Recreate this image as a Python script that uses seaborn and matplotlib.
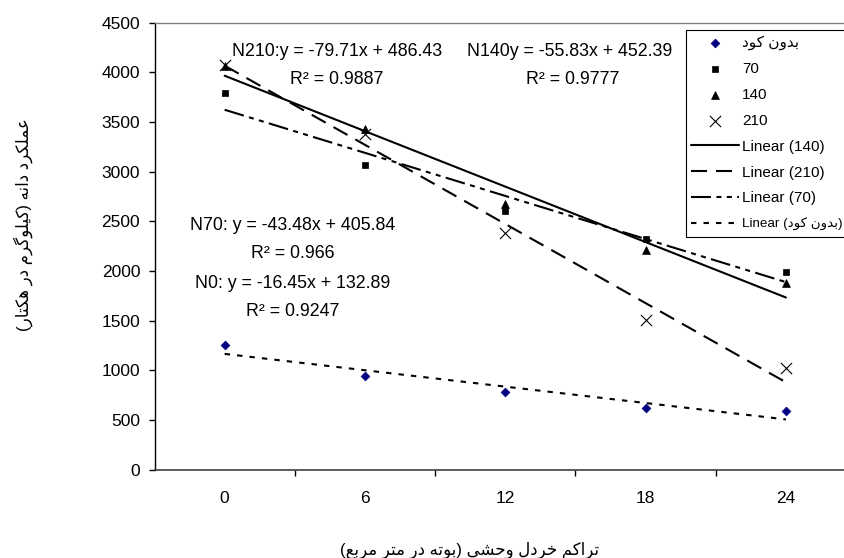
import matplotlib
matplotlib.use("Agg")
import matplotlib.pyplot as plt
from matplotlib import font_manager, ft2font
import numpy as np
import pandas as pd
import seaborn as sns

# ---------------- data ----------------
density = [0, 6, 12, 18, 24]
density_labels = ["0", "6", "12", "18", "24"]
yield_n0 = [1250, 940, 778, 620, 585]
yield_n70 = [3790, 3070, 2600, 2323, 1994]
yield_n140 = [4060, 3430, 2670, 2206, 1880]
yield_n210 = [4073, 3380, 2383, 1503, 1026]
series_names = ["بدون کود", "70", "140", "210"]
y_ticks = [0, 500, 1000, 1500, 2000, 2500, 3000, 3500, 4000, 4500]
eq_texts = ["N210:y = -79.71x + 486.43", "R² = 0.9887",
            "N140y = -55.83x + 452.39", "R² = 0.9777",
            "N70: y = -43.48x + 405.84", "R² = 0.966",
            "N0: y = -16.45x + 132.89", "R² = 0.9247"]
x_title = "تراکم خردل وحشي (بوته در متر مربع)"
y_title = "عملکرد دانه (کیلوگرم در هکتار)"

# ---------------- minimal Arabic/Persian shaping ----------------
FORMS = {
    'ا': ('\uFE8D', '\uFE8E', None, None),
    'ب': ('\uFE8F', '\uFE90', '\uFE91', '\uFE92'),
    'ت': ('\uFE95', '\uFE96', '\uFE97', '\uFE98'),
    'ح': ('\uFEA1', '\uFEA2', '\uFEA3', '\uFEA4'),
    'خ': ('\uFEA5', '\uFEA6', '\uFEA7', '\uFEA8'),
    'د': ('\uFEA9', '\uFEAA', None, None),
    'ر': ('\uFEAD', '\uFEAE', None, None),
    'ش': ('\uFEB5', '\uFEB6', '\uFEB7', '\uFEB8'),
    'ع': ('\uFEC9', '\uFECA', '\uFECB', '\uFECC'),
    'ل': ('\uFEDD', '\uFEDE', '\uFEDF', '\uFEE0'),
    'م': ('\uFEE1', '\uFEE2', '\uFEE3', '\uFEE4'),
    'ن': ('\uFEE5', '\uFEE6', '\uFEE7', '\uFEE8'),
    'ه': ('\uFEE9', '\uFEEA', '\uFEEB', '\uFEEC'),
    'و': ('\uFEED', '\uFEEE', None, None),
    'ي': ('\uFEF1', '\uFEF2', '\uFEF3', '\uFEF4'),
    'ک': ('\uFB8E', '\uFB8F', '\uFB90', '\uFB91'),
    'گ': ('\uFB92', '\uFB93', '\uFB94', '\uFB95'),
    'ی': ('\uFBFC', '\uFBFD', '\uFBFE', '\uFBFF'),
}
try:
    _ft = ft2font.FT2Font(font_manager.findfont("DejaVu Sans"))
    def _has(ch):
        return _ft.get_char_index(ord(ch)) != 0
except Exception:
    def _has(ch):
        return True


def _dual(ch):
    return ch in FORMS and FORMS[ch][2] is not None


def shape(text):
    out = []
    n = len(text)
    for i, ch in enumerate(text):
        if ch not in FORMS:
            out.append(ch)
            continue
        prev = text[i - 1] if i > 0 else None
        nxt = text[i + 1] if i < n - 1 else None
        join_prev = prev is not None and _dual(prev)
        join_next = _dual(ch) and nxt is not None and nxt in FORMS
        f = FORMS[ch]
        if join_prev and join_next:
            g = f[3]
        elif join_next:
            g = f[2]
        elif join_prev:
            g = f[1]
        else:
            g = f[0]
        out.append(g if (g and _has(g)) else ch)
    return "".join(out)


def rtl(text):
    s = shape(text)[::-1]
    return s.translate(str.maketrans("()", ")("))


# ---------------- style ----------------
sns.set_theme(style="white", rc={
    "text.color": "black", "axes.labelcolor": "black",
    "xtick.color": "black", "ytick.color": "black",
})
plt.rcParams["font.family"] = ["Liberation Sans", "DejaVu Sans"]

W, H = 845, 558
fig = plt.figure(figsize=(W / 100, H / 100), dpi=100)
fig.patch.set_facecolor("white")
ax = fig.add_axes([154.5 / W, 1 - 469.5 / H, (856 - 154.5) / W, (469.5 - 22.7) / H])

df = pd.DataFrame({
    "x": density * 4,
    "y": yield_n0 + yield_n70 + yield_n140 + yield_n210,
    "series": sum([[s] * len(density) for s in series_names], []),
})

styles = {
    "بدون کود": dict(marker="D", color="#000080", s=20, lw=0.5,
                      ls=(0, (2.6, 3.4))),
    "70": dict(marker="s", color="black", s=22, lw=0.5,
               ls=(0, (9.6, 2.6, 2.4, 2.6, 2.4, 2.6))),
    "140": dict(marker="^", color="black", s=32, lw=0.5, ls="-"),
    "210": dict(marker="x", color="black", s=65, lw=0.8,
                ls=(0, (7.7, 4.3))),
}

scatters, lines = {}, {}
for name in series_names:
    st = styles[name]
    sub = df[df["series"] == name]
    sns.regplot(data=sub, x="x", y="y", ax=ax, ci=None, marker=st["marker"],
                color=st["color"], truncate=True,
                scatter_kws=dict(s=st["s"], linewidths=st["lw"], alpha=1, zorder=4),
                line_kws=dict(color="black", lw=1.5, ls=st["ls"], zorder=3))
    scatters[name] = ax.collections[-1]
    lines[name] = ax.lines[-1]

ax.set_xlim(-3, 27)
ax.set_ylim(0, 4500)
ax.set_xlabel("")
ax.set_ylabel("")
ax.set_xticks(density)
ax.set_xticklabels(density_labels)
ax.set_xticks([3, 9, 15, 21], minor=True)
ax.set_yticks(y_ticks)
ax.set_yticklabels([str(v) for v in y_ticks])
ax.tick_params(axis="x", which="major", length=0, pad=15.5, labelsize=12.5)
ax.tick_params(axis="x", which="minor", length=4.3, width=1, direction="out",
               bottom=True, color="black")
ax.tick_params(axis="y", which="major", length=4.3, width=1, direction="out",
               left=True, pad=6, labelsize=12.5, color="black")
ax.grid(False)
for side in ["top", "right"]:
    ax.spines[side].set_color("#808080")
    ax.spines[side].set_linewidth(1)
ax.spines["left"].set_color("black")
ax.spines["left"].set_linewidth(1)
ax.spines["bottom"].set_color("#404040")
ax.spines["bottom"].set_linewidth(1.2)

# ---------------- annotations ----------------
def px(x, y):
    return x / W, 1 - y / H

ann = [
    (eq_texts[0], 232, 52, "left"),
    (eq_texts[1], 337, 80, "center"),
    (eq_texts[2], 467, 52, "left"),
    (eq_texts[3], 573, 80, "center"),
    (eq_texts[4], 293, 226, "center"),
    (eq_texts[5], 293, 253, "center"),
    (eq_texts[6], 293, 284, "center"),
    (eq_texts[7], 293, 311, "center"),
]
for txt, x, y, ha in ann:
    fig.text(*px(x, y), txt, ha=ha, va="center", fontsize=12.8, color="black")

fig.text(*px(23, 225), rtl(y_title), rotation=90, ha="center", va="center",
         fontsize=12, color="black")
fig.text(*px(470, 550), rtl(x_title), ha="center", va="center",
         fontsize=12, color="black")

# ---------------- legend ----------------
handles = [scatters[n] for n in series_names] + \
          [lines["140"], lines["210"], lines["70"], lines["بدون کود"]]
labels = [rtl(series_names[0]), "70", "140", "210",
          "Linear (140)", "Linear (210)", "Linear (70)",
          "Linear (" + shape(series_names[0])[::-1] + ")"]
leg = ax.legend(handles, labels, loc="upper left",
                bbox_to_anchor=px(686, 30), bbox_transform=fig.transFigure,
                frameon=True, fancybox=False, shadow=False, framealpha=1,
                edgecolor="black", facecolor="white", fontsize=11,
                handlelength=3.1, handletextpad=0.2, labelspacing=0.78,
                borderpad=0.35, borderaxespad=0, scatterpoints=1)
leg.get_frame().set_linewidth(0.8)
for t in leg.get_texts():
    t.set_color("black")
leg.get_texts()[-1].set_fontsize(9.6)

fig.savefig("out.png", dpi=100, facecolor="white")
